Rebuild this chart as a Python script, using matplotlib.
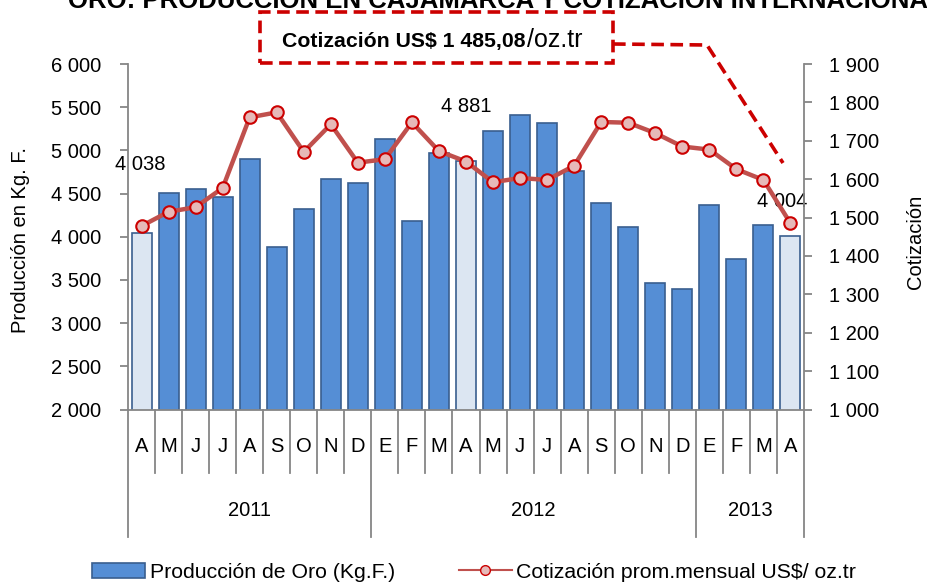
import matplotlib
matplotlib.use('Agg')
import matplotlib.pyplot as plt
import matplotlib.transforms as mtransforms
from matplotlib.lines import Line2D
from matplotlib.patches import Patch, Rectangle
from matplotlib.ticker import FuncFormatter

plt.rcParams['font.family'] = ['Liberation Sans', 'DejaVu Sans']

# datos: abril 2011 - abril 2013
meses = ['A', 'M', 'J', 'J', 'A', 'S', 'O', 'N', 'D',
         'E', 'F', 'M', 'A', 'M', 'J', 'J', 'A', 'S', 'O', 'N', 'D',
         'E', 'F', 'M', 'A']
anios = ['2011', '2012', '2013']
meses_por_anio = [9, 12, 4]
produccion = [4038, 4504, 4551, 4462, 4902, 3878, 4319, 4667, 4620,
              5130, 4180, 4968, 4881, 5227, 5405, 5316, 4759, 4388, 4110, 3461, 3391,
              4369, 3739, 4137, 4004]
cotizacion = [1478, 1515, 1527, 1577, 1761, 1774, 1671, 1743, 1643,
              1652, 1748, 1673, 1646, 1592, 1603, 1598, 1635, 1749, 1747, 1720, 1685,
              1677, 1626, 1598, 1485.08]
resaltados = [0, 12, 24]  # meses de abril
# desplazamiento de las etiquetas (puntos)
offsets = {0: (-1, 50), 12: (0, 39), 24: (-6, 25)}

W, H = 927, 583
azul = '#558ED5'
azul_claro = '#DCE6F2'
borde = '#3A5F8F'
rojo_linea = '#C0504D'
rojo = '#CC0000'
gris = '#868686'
fs = 14.5

fig = plt.figure(figsize=(W / 100, H / 100), dpi=100)
ax = fig.add_axes([128 / W, 1 - 409.5 / H, (804 - 128) / W, (409.5 - 64) / H])
ax2 = ax.twinx()

x = list(range(len(meses)))
colores = [azul_claro if i in resaltados else azul for i in x]
ax.bar(x, produccion, width=0.74, color=colores, edgecolor=borde, linewidth=1.2, zorder=2)
ax.set_xlim(-0.5, len(meses) - 0.5)
ax.set_ylim(2000, 6000)
ax.set_yticks(range(2000, 6001, 500))
ax2.set_ylim(1000, 1900)
ax2.set_yticks(range(1000, 1901, 100))

ax2.plot(x, cotizacion, color=rojo_linea, lw=3.2, marker='o', ms=9,
         mfc='#E6B9B8', mec=rojo, mew=1.5, zorder=3)

fmt = FuncFormatter(lambda v, p: f'{v:,.0f}'.replace(',', ' '))
ax.yaxis.set_major_formatter(fmt)
ax2.yaxis.set_major_formatter(fmt)
ax.set_xticks([])

for a in (ax, ax2):
    for s in a.spines.values():
        s.set_visible(False)
ax.spines['left'].set_visible(True)
ax.spines['bottom'].set_visible(True)
ax2.spines['right'].set_visible(True)
for s in (ax.spines['left'], ax.spines['bottom'], ax2.spines['right']):
    s.set_color(gris)
    s.set_linewidth(1.3)
ax.tick_params(axis='y', length=6, width=1.3, color=gris, labelsize=fs, pad=13)
ax2.tick_params(axis='y', length=6, width=1.3, color=gris, labelsize=fs, pad=12)

for i in resaltados:
    ax.annotate(f'{produccion[i]:,}'.replace(',', ' '), (x[i], produccion[i]),
                xytext=offsets[i], textcoords='offset points',
                ha='center', va='center', fontsize=fs, zorder=5)

# eje categorico de dos niveles
trans = mtransforms.blended_transform_factory(ax.transData, ax.transAxes)
alto = 409.5 - 64
y_mes = -(447 - 409.5) / alto
y_sep = -(473 - 409.5) / alto
y_anio = -(511 - 409.5) / alto
y_sep2 = -(537 - 409.5) / alto
for i, m in enumerate(meses):
    ax.text(i, y_mes, m, transform=trans, ha='center', va='center', fontsize=fs)
limites = [-0.5]
for n in meses_por_anio:
    limites.append(limites[-1] + n)
for i in range(len(meses) + 1):
    xs = i - 0.5
    y_fin = y_sep2 if xs in limites else y_sep
    ax.plot([xs, xs], [0, y_fin], transform=trans, color=gris, lw=1.3, clip_on=False)
for k, anio in enumerate(anios):
    ax.text((limites[k] + limites[k + 1]) / 2, y_anio, anio, transform=trans,
            ha='center', va='center', fontsize=fs)

fig.text(21 / W, 1 - 240 / H, 'Producción en Kg. F.', rotation=90, ha='center', va='center', fontsize=fs)
fig.text(915 / W, 1 - 242 / H, 'Cotización', rotation=90, ha='center', va='center', fontsize=fs)

# titulo (cortado arriba, como en el original)
fig.text(68 / W, 1 - 8 / H, 'ORO: PRODUCCIÓN EN CAJAMARCA Y COTIZACIÓN INTERNACIONAL',
         ha='left', va='baseline', fontsize=18.5, fontweight='bold')

# recuadro de cotizacion
fig.patches.append(Rectangle((260 / W, 1 - 63 / H), (613 - 260) / W, (63 - 12) / H,
                             transform=fig.transFigure, fill=False, edgecolor=rojo,
                             lw=2.6, linestyle=(0, (3.5, 1.8))))
fig.lines.append(Line2D([613 / W, 707 / W, 783 / W], [1 - 44 / H, 1 - 45 / H, 1 - 163 / H],
                        transform=fig.transFigure, color=rojo, lw=2.6, linestyle=(0, (3.5, 1.8))))
fig.text(525 / W, 1 - 41 / H, 'Cotización US$ 1 485,08', ha='right', va='center',
         fontsize=15.3, fontweight='bold')
fig.text(527 / W, 1 - 40 / H, '/oz.tr', ha='left', va='center', fontsize=18)

handles = [Patch(facecolor=azul, edgecolor=borde, lw=1.2),
           Line2D([], [], color=rojo_linea, lw=1.5, marker='o', ms=7, mfc='#E6B9B8', mec=rojo)]
fig.legend(handles, ['Producción de Oro (Kg.F.)', 'Cotización prom.mensual US$/ oz.tr'],
           loc='center', bbox_to_anchor=(0.5115, 1 - 572 / H), ncol=2, frameon=False,
           fontsize=15.3, handlelength=2.5, handletextpad=0.2, columnspacing=3.0)

fig.savefig('out.png', dpi=100)
